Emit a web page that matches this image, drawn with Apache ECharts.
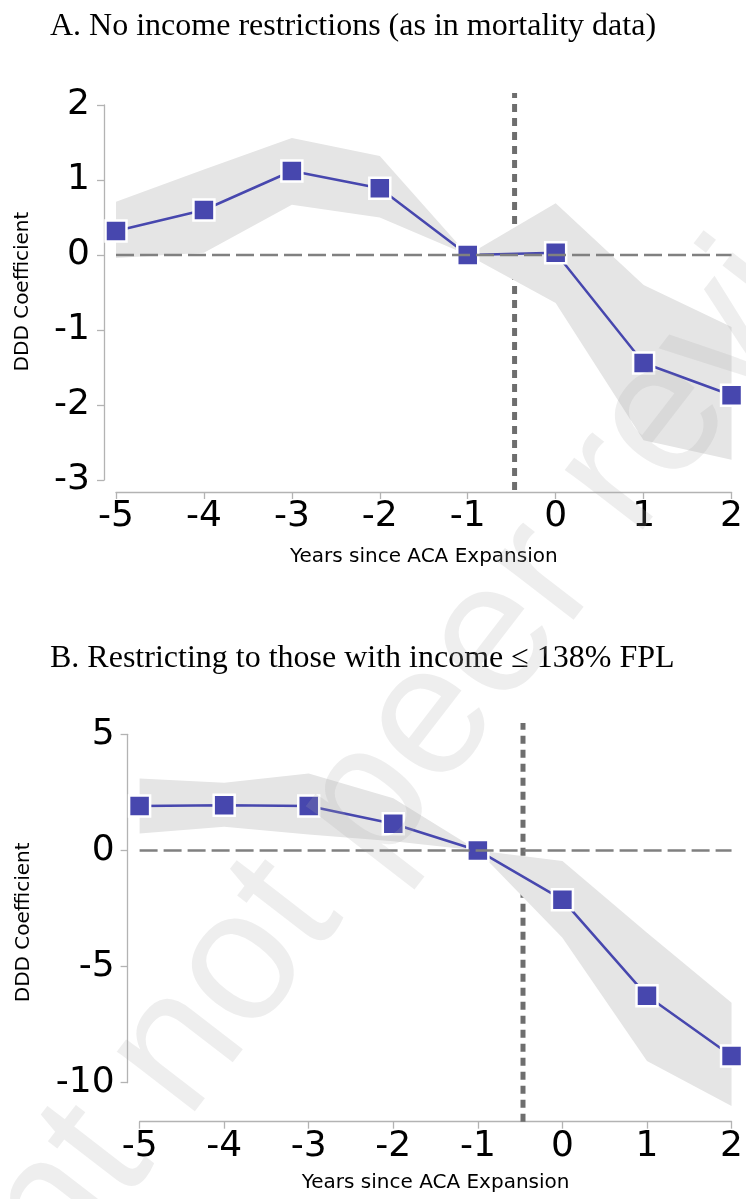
<!DOCTYPE html>
<html>
<head>
<meta charset="utf-8">
<script src="https://cdn.jsdelivr.net/npm/echarts@6/dist/echarts.min.js"></script>
<style>
  html, body { margin: 0; padding: 0; background: #ffffff; }
  #chart { width: 746px; height: 1199px; }
</style>
</head>
<body>
<div id="chart"></div>
<script>
// Event-study coefficients (years relative to ACA expansion) with 95% bands
const years = [-5, -4, -3, -2, -1, 0, 1, 2];

// Panel A: no income restrictions
const coefA  = [0.32, 0.60, 1.12, 0.89, 0.00, 0.03, -1.44, -1.87];
const lowerA = [-0.04, 0.03, 0.67, 0.50, 0.00, -0.64, -2.47, -2.73];
const upperA = [0.71, 1.14, 1.56, 1.32, 0.00, 0.69, -0.40, -0.96];

// Panel B: income at or below 138% FPL
const coefB  = [1.91, 1.94, 1.91, 1.15, 0.00, -2.12, -6.26, -8.85];
const lowerB = [0.73, 1.02, 0.69, 0.40, 0.00, -3.76, -9.07, -11.00];
const upperB = [3.10, 2.91, 3.31, 2.25, 0.00, -0.46, -3.54, -6.56];

// Tick values
const yTicksA = [-3, -2, -1, 0, 1, 2];
const yTicksB = [-10, -5, 0, 5];

// Reference lines: zero effect and the expansion cut-off
const zeroLevel = 0;
const expansionCut = -0.5;

const titleA = 'A. No income restrictions (as in mortality data)';
const titleB = 'B. Restricting to those with income \u2264 138% FPL';
const xName = 'Years since ACA Expansion';
const yName = 'DDD Coefficient';
const watermark = 'Preprint not peer reviewed';

const chart = echarts.init(document.getElementById('chart'), null, { renderer: 'canvas' });

const axisGray = '#b3b3b3';
const markColor = '#4747ae';
const sans = 'DejaVu Sans';

function mainX(gridIndex, offset, nameGap) {
  return {
    type: 'value', gridIndex,
    min: years[0], max: years[years.length - 1], interval: 1,
    offset,
    axisLine: { show: true, onZero: false, lineStyle: { color: axisGray, width: 1.3 } },
    axisTick: { show: true, length: 7, lineStyle: { color: axisGray, width: 1.3 } },
    axisLabel: { fontSize: 36, fontFamily: sans, color: '#000', margin: 7 },
    splitLine: { show: false },
    name: xName, nameLocation: 'middle', nameGap,
    nameTextStyle: { fontSize: 20, fontFamily: sans, color: '#000' }
  };
}
function mainY(gridIndex, ticks, offset, margin) {
  return {
    type: 'value', gridIndex,
    min: ticks[0], max: ticks[ticks.length - 1], interval: ticks[1] - ticks[0],
    offset,
    axisLine: { show: true, onZero: false, lineStyle: { color: axisGray, width: 1.3 } },
    axisTick: { show: true, length: 7, lineStyle: { color: axisGray, width: 1.3 } },
    axisLabel: { fontSize: 36, fontFamily: sans, color: '#000', margin },
    splitLine: { show: false }
  };
}
// Frame axes span the full plotting box (used for the vertical cut line and the y title)
function frameX(gridIndex) {
  return {
    type: 'value', gridIndex, min: years[0], max: years[years.length - 1],
    axisLine: { show: false }, axisTick: { show: false }, axisLabel: { show: false },
    splitLine: { show: false }
  };
}
function frameY(gridIndex, nameGap) {
  return {
    type: 'value', gridIndex, min: 0, max: 1,
    axisLine: { show: false }, axisTick: { show: false }, axisLabel: { show: false },
    splitLine: { show: false },
    name: yName, nameLocation: 'middle', nameGap, nameRotate: 90,
    nameTextStyle: { fontSize: 20, fontFamily: sans, color: '#000' }
  };
}

function bandSeries(xi, yi, lower, upper) {
  return {
    type: 'custom', xAxisIndex: xi, yAxisIndex: yi, z: 2, silent: true,
    data: [[years[0], lower[0]]],
    renderItem(params, api) {
      const top = years.map((x, i) => api.coord([x, upper[i]]));
      const bottom = years.map((x, i) => api.coord([x, lower[i]])).reverse();
      return { type: 'polygon', shape: { points: top.concat(bottom) }, style: { fill: '#e5e5e5' } };
    }
  };
}
function coefSeries(xi, yi, coef) {
  return {
    type: 'line', xAxisIndex: xi, yAxisIndex: yi, z: 3, silent: true,
    data: years.map((x, i) => [x, coef[i]]),
    symbol: 'rect', symbolSize: 21,
    itemStyle: { color: markColor, borderColor: '#ffffff', borderWidth: 2.5 },
    lineStyle: { color: markColor, width: 2.5 }
  };
}
function zeroSeries(xi, yi) {
  return {
    type: 'line', xAxisIndex: xi, yAxisIndex: yi, z: 4, silent: true,
    data: [[years[0], zeroLevel], [years[years.length - 1], zeroLevel]],
    symbol: 'none',
    lineStyle: { color: '#808080', width: 2.5, type: [18, 6] }
  };
}
function cutSeries(xi, yi) {
  return {
    type: 'line', xAxisIndex: xi, yAxisIndex: yi, z: 1, silent: true,
    data: [[expansionCut, 0], [expansionCut, 1]],
    symbol: 'none',
    lineStyle: { color: '#6e6e6e', width: 5, type: [8, 6] }
  };
}

const option = {
  animation: false,
  backgroundColor: '#ffffff',
  grid: [
    { left: 116, top: 105, width: 620, height: 375 },
    { left: 116, top: 93, width: 620, height: 397 },
    { left: 139.6, top: 734.3, width: 596.4, height: 348.4 },
    { left: 139.6, top: 723, width: 596.4, height: 398.7 }
  ],
  xAxis: [mainX(0, 12, 55), frameX(1), mainX(2, 39, 51), frameX(3)],
  yAxis: [mainY(0, yTicksA, 12, 14), frameY(1, 83), mainY(2, yTicksB, 12, 13), frameY(3, 106)],
  series: [
    cutSeries(1, 1), bandSeries(0, 0, lowerA, upperA), coefSeries(0, 0, coefA), zeroSeries(0, 0),
    cutSeries(3, 3), bandSeries(2, 2, lowerB, upperB), coefSeries(2, 2, coefB), zeroSeries(2, 2)
  ],
  graphic: [
    {
      type: 'text', x: 50, y: 27, z: 5,
      style: { text: titleA, fontFamily: 'Liberation Serif', fontSize: 32, fill: '#000',
               align: 'left', verticalAlign: 'middle' }
    },
    {
      type: 'text', x: 50, y: 659, z: 5,
      style: { text: titleB, fontFamily: 'Liberation Serif', fontSize: 32, fill: '#000',
               align: 'left', verticalAlign: 'middle' }
    },
    {
      type: 'text', x: 383, y: 783, rotation: 52.4 * Math.PI / 180, z: 100, silent: true,
      style: { text: watermark, fontFamily: 'Liberation Sans', fontSize: 186,
               fill: 'rgba(170,170,170,0.2)', align: 'center', verticalAlign: 'middle' }
    }
  ]
};

chart.setOption(option);
</script>
</body>
</html>
